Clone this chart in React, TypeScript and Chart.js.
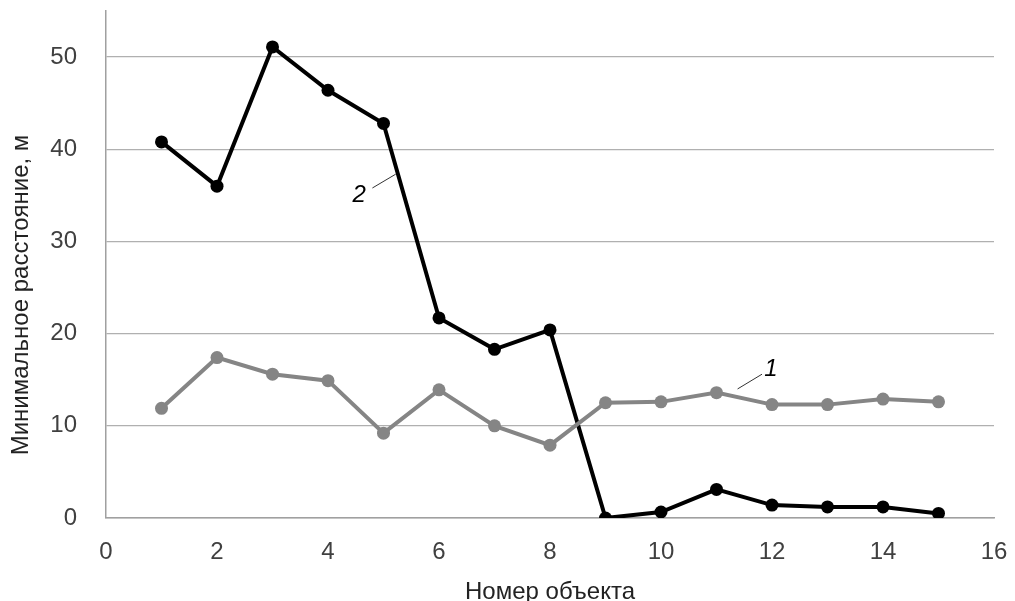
import React, { useEffect, useRef } from "react";
import { Chart, registerables } from "chart.js";

Chart.register(...registerables);

const objects = [1, 2, 3, 4, 5, 6, 7, 8, 9, 10, 11, 12, 13, 14, 15];
const series1 = [11.9, 17.4, 15.6, 14.9, 9.2, 13.9, 10.0, 7.9, 12.5, 12.6, 13.6, 12.3, 12.3, 12.9, 12.6];
const series2 = [40.8, 36.0, 51.1, 46.4, 42.8, 21.7, 18.3, 20.4, 0.0, 0.65, 3.1, 1.4, 1.2, 1.2, 0.5];
const xTicks = [0, 2, 4, 6, 8, 10, 12, 14, 16];
const yTicks = [0, 10, 20, 30, 40, 50];
const xTitle = "Номер объекта";
const yTitle = "Минимальное расстояние, м";
// annotation labels (data coords): text pos, leader start, leader end
const labels = [
  { text: "2", x: 4.56, y: 35.0, lx1: 4.8, ly1: 35.8, lx2: 5.22, ly2: 37.3 },
  { text: "1", x: 11.98, y: 16.1, lx1: 11.38, ly1: 14.0, lx2: 11.82, ly2: 15.6 },
];

const annotate = {
  id: "annotate",
  afterDatasetsDraw(chart: any) {
    const { ctx, scales } = chart;
    const xs = scales.x, ys = scales.y;
    ctx.save();
    for (const l of labels) {
      ctx.strokeStyle = "#333";
      ctx.lineWidth = 1;
      ctx.beginPath();
      ctx.moveTo(xs.getPixelForValue(l.lx1), ys.getPixelForValue(l.ly1));
      ctx.lineTo(xs.getPixelForValue(l.lx2), ys.getPixelForValue(l.ly2));
      ctx.stroke();
      ctx.fillStyle = "#000";
      ctx.font = "italic 24px 'Liberation Sans', Arial, sans-serif";
      ctx.textAlign = "center";
      ctx.textBaseline = "middle";
      ctx.fillText(l.text, xs.getPixelForValue(l.x), ys.getPixelForValue(l.y));
    }
    // y-axis title
    ctx.translate(21, 295);
    ctx.rotate(-Math.PI / 2);
    ctx.fillStyle = "#222";
    ctx.font = "24px 'Liberation Sans', Arial, sans-serif";
    ctx.fillText(yTitle, 0, 0);
    ctx.restore();
  },
};

export default function App() {
  const ref = useRef<HTMLCanvasElement>(null);
  useEffect(() => {
    if (!ref.current) return;
    const chart = new Chart(ref.current, {
      type: "line",
      data: {
        datasets: [
          {
            label: "1",
            data: objects.map((x, i) => ({ x, y: series1[i] })),
            borderColor: "#858585",
            backgroundColor: "#858585",
            borderWidth: 4,
            pointRadius: 6.5,
            pointBorderWidth: 0,
          },
          {
            label: "2",
            data: objects.map((x, i) => ({ x, y: series2[i] })),
            borderColor: "#000",
            backgroundColor: "#000",
            borderWidth: 4,
            pointRadius: 6.5,
            pointBorderWidth: 0,
          },
        ],
      },
      options: {
        animation: false,
        responsive: false,
        layout: { padding: { left: 0, right: 21, top: 11, bottom: 0 } },
        plugins: { legend: { display: false }, tooltip: { enabled: false } },
        scales: {
          x: {
            type: "linear",
            min: 0,
            max: 16,
            afterBuildTicks: (s: any) => { s.ticks = xTicks.map((v) => ({ value: v })); },
            afterFit: (s: any) => { s.height = 83; s.paddingLeft = 0; s.paddingRight = 0; },
            grid: { display: false, drawTicks: false },
            border: { display: true, color: "#a0a0a0", width: 1.5 },
            ticks: {
              padding: 20,
              color: "#404040",
              font: { size: 24, family: "'Liberation Sans', Arial" },
              maxRotation: 0,
            },
            title: {
              display: true,
              text: xTitle,
              color: "#222",
              font: { size: 24, family: "'Liberation Sans', Arial" },
              padding: { top: 4, bottom: -6 },
            },
          },
          y: {
            type: "linear",
            min: 0,
            max: 55,
            afterBuildTicks: (s: any) => { s.ticks = yTicks.map((v) => ({ value: v })); },
            afterFit: (s: any) => { s.width = 106; s.paddingTop = 0; s.paddingBottom = 0; },
            grid: { color: "#b0b0b0", lineWidth: 1.2, drawTicks: false },
            border: { display: true, color: "#a0a0a0", width: 1.5 },
            ticks: {
              padding: 29,
              color: "#404040",
              font: { size: 24, family: "'Liberation Sans', Arial" },
            },
            title: { display: false },
          },
        },
      },
      plugins: [annotate],
    });
    return () => chart.destroy();
  }, []);
  return (
    <div style={{ position: "fixed", left: 0, top: 0, width: 1015, height: 601, background: "#fff" }}>
      <canvas ref={ref} width={1015} height={601} />
    </div>
  );
}
